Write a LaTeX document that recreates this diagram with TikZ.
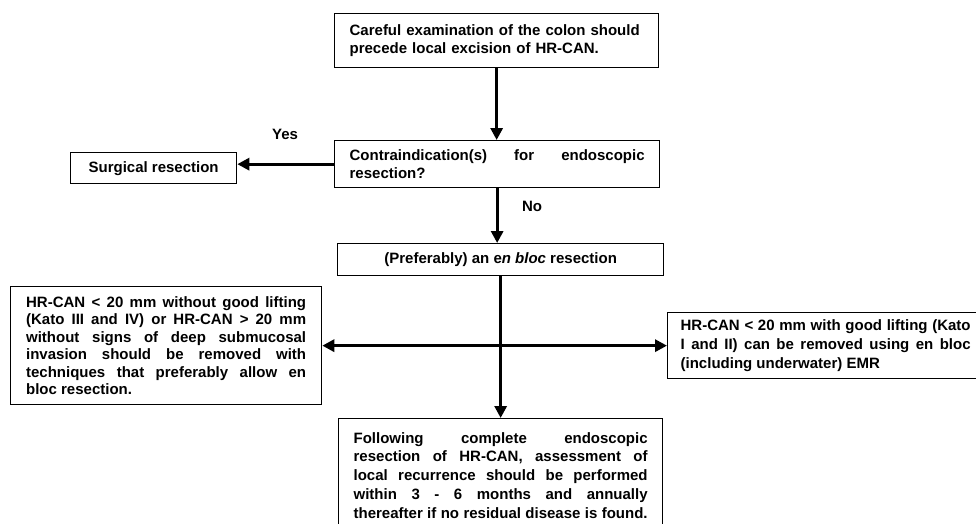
\documentclass[tikz,border=0pt]{standalone}
\usepackage{fontspec}
\setmainfont{Liberation Sans}
\usetikzlibrary{arrows.meta}
\newcommand{\jl}[1]{\makebox[\curw][s]{\spaceskip=0pt\xspaceskip=0pt\relax #1}\\}
\begin{document}
\begin{tikzpicture}[x=1pt,y=-1pt,
  box/.style={draw=black, line width=1.3pt, rectangle, inner sep=0pt,
    font=\fontsize{15}{18}\selectfont\bfseries, anchor=north west, align=left},
  tw/.style={text width=#1, execute at begin node={\def\curw{#1}}},
  lbl/.style={font=\fontsize{15}{18}\selectfont\bfseries, inner sep=0pt},
  conn/.style={line width=3pt},
  tip/.style={-{Triangle[length=12pt,width=12pt]}},
  dtip/.style={{Triangle[length=12pt,width=12pt]}-{Triangle[length=12pt,width=12pt]}}
]
\clip (0,0) rectangle (976,523);
\fill[white] (0,0) rectangle (976,523);

\node[box, tw=294pt, minimum width=324pt, minimum height=54pt] (b1) at (334,13)
  {Careful examination of the colon should\\precede local excision of HR-CAN.};
\node[box, align=justify, tw=295pt, minimum width=325pt, minimum height=47pt] (b2) at (334,140)
  {\jl{Contraindication(s) for endoscopic}resection?};
\node[box, align=center, minimum width=166pt, minimum height=31pt] (surg) at (70,152)
  {Surgical resection};
\node[box, align=center, minimum width=326pt, minimum height=32pt] (b3) at (337,243)
  {(Preferably) an e\textit{n bloc} resection};
\node[box, align=justify, tw=280pt, minimum width=311pt, minimum height=118pt,
  font=\fontsize{15}{17.5}\selectfont\bfseries] (left) at (10,286)
  {\jl{HR-CAN < 20 mm without good lifting}\jl{(Kato III and IV) or HR-CAN > 20 mm}\jl{without signs of deep submucosal}\jl{invasion should be removed with}\jl{techniques that preferably allow en}bloc resection.};
\node[box, align=justify, tw=290pt, minimum width=316pt, minimum height=66pt,
  font=\fontsize{15}{19}\selectfont\bfseries] (right) at (667,312)
  {\jl{HR-CAN < 20 mm with good lifting (Kato}\jl{I and II) can be removed using en bloc}(including underwater) EMR};
\node[box, align=justify, tw=294pt, minimum width=324pt, minimum height=132pt,
  font=\fontsize{15}{18.75}\selectfont\bfseries] (bot) at (338,418)
  {\jl{Following complete endoscopic}\jl{resection of HR-CAN, assessment of}\jl{local recurrence should be performed}\jl{within 3 - 6 months and annually}\jl{thereafter if no residual disease is found.}};

\node[lbl] (yes) at (285,134) {Yes};
\node[lbl] (no) at (532,206) {No};

\draw[conn,tip] (b1.south) -- (b1.south |- b2.north);
\draw[conn,tip] (b2.west) -- (b2.west -| surg.east);
\draw[conn,tip] (b2.south) -- (b2.south |- b3.north);
\draw[conn,tip] (b3.south) -- (b3.south |- bot.north);
\draw[conn,dtip] (left.east) -- (left.east -| right.west);
\end{tikzpicture}
\end{document}
